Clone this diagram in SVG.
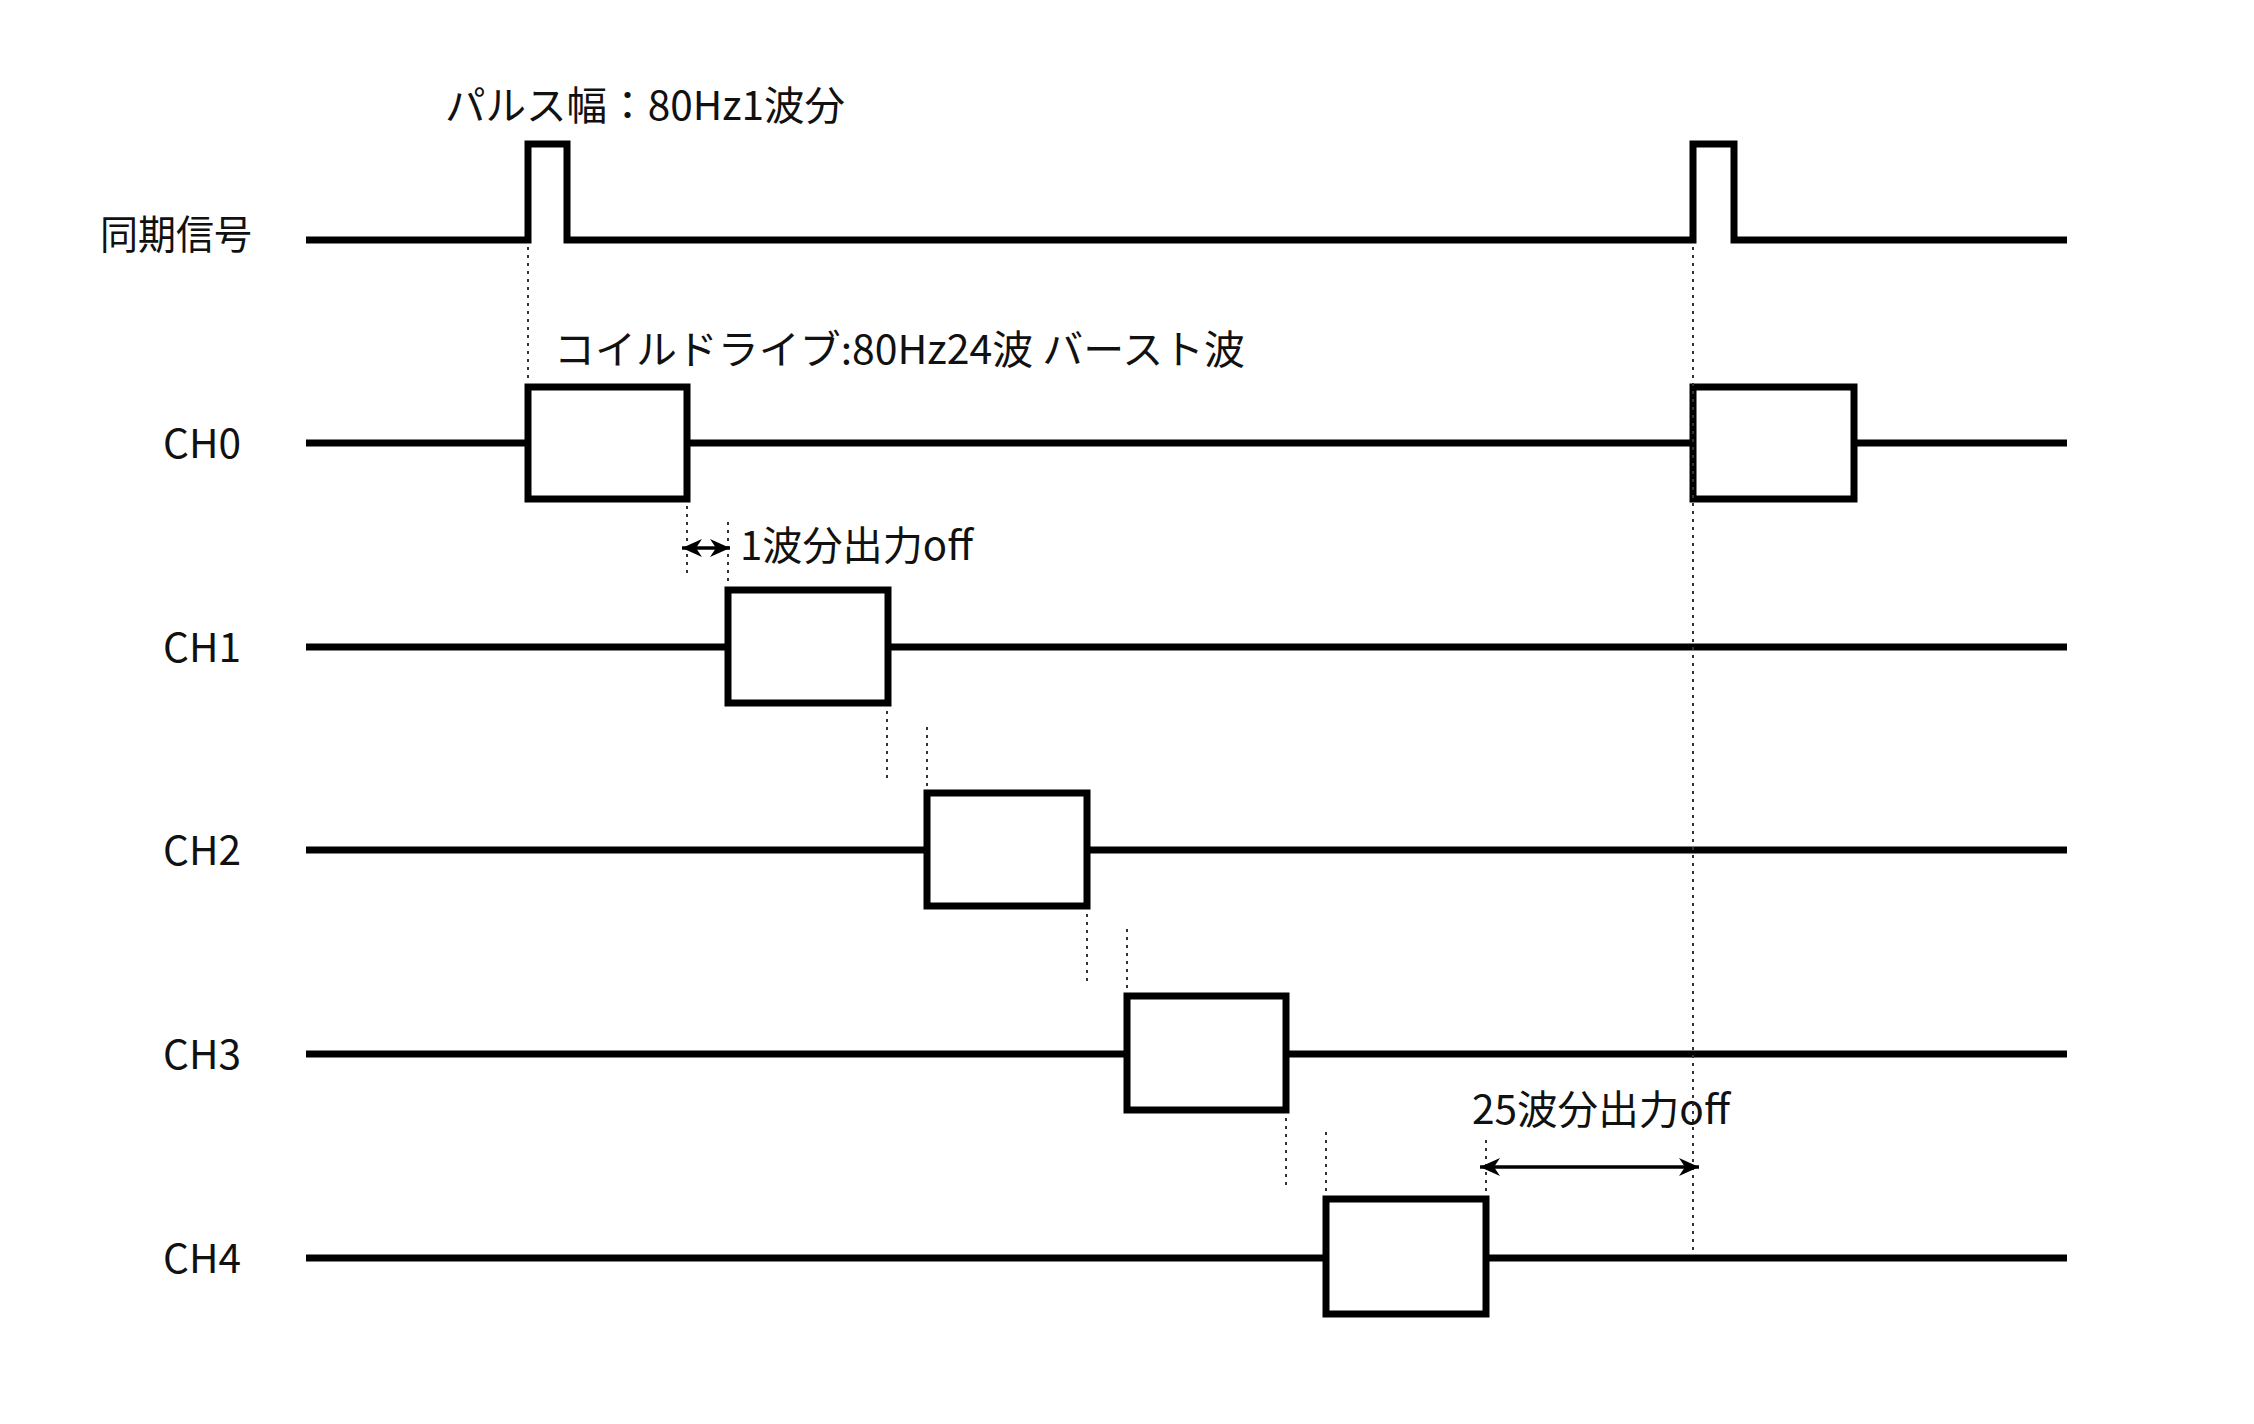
<svg xmlns="http://www.w3.org/2000/svg" width="2254" height="1424" viewBox="0 0 2254 1424">
<style>
  .sig { fill: none; stroke: #000; stroke-width: 7; stroke-linejoin: miter; }
  .box { fill: #fff; stroke: #000; stroke-width: 7; }
  .dot { fill: none; stroke: #333; stroke-width: 2; stroke-dasharray: 3 5; }
  .arr { fill: none; stroke: #000; stroke-width: 3.5; marker-start: url(#ah); marker-end: url(#ah); }
  .lbl { font-family: "Noto Sans CJK JP", "Liberation Sans", sans-serif; font-size: 40px; fill: #111; }
</style>
<defs>
  <marker id="ah" viewBox="0 0 20 18" refX="20" refY="9" markerWidth="20" markerHeight="18" markerUnits="userSpaceOnUse" orient="auto-start-reverse">
    <path d="M0,0 L20,9 L0,18 L6,9 Z" fill="#000"/>
  </marker>
</defs>
<rect width="2254" height="1424" fill="#fff"/>

<g id="sync">
  <path class="sig" d="M306,240 H528 V144 H567 V240 H1693 V144 H1734 V240 H2067"/>
  <text class="lbl" x="100" y="249" textLength="152" lengthAdjust="spacingAndGlyphs">同期信号</text>
  <text class="lbl" x="445" y="120" textLength="400" lengthAdjust="spacingAndGlyphs">パルス幅：80Hz1波分</text>
</g>

<g id="ch0">
  <path class="sig" d="M306,443 H2067"/>
  <rect class="box" x="528" y="387" width="159" height="112"/>
  <rect class="box" x="1693" y="387" width="161" height="112"/>
  <text class="lbl" x="163" y="458" textLength="78" lengthAdjust="spacingAndGlyphs">CH0</text>
  <text class="lbl" x="554" y="364" textLength="691" lengthAdjust="spacingAndGlyphs">コイルドライブ:80Hz24波 バースト波</text>
</g>

<g id="ch1">
  <path class="sig" d="M306,647 H2067"/>
  <rect class="box" x="728" y="590" width="160" height="113"/>
  <text class="lbl" x="163" y="662" textLength="78" lengthAdjust="spacingAndGlyphs">CH1</text>
  <text class="lbl" x="740" y="560" textLength="233" lengthAdjust="spacingAndGlyphs">1波分出力off</text>
</g>

<g id="ch2">
  <path class="sig" d="M306,850 H2067"/>
  <rect class="box" x="927" y="793" width="160" height="113"/>
  <text class="lbl" x="163" y="865" textLength="78" lengthAdjust="spacingAndGlyphs">CH2</text>
</g>

<g id="ch3">
  <path class="sig" d="M306,1054 H2067"/>
  <rect class="box" x="1127" y="996" width="159" height="114"/>
  <text class="lbl" x="163" y="1069" textLength="78" lengthAdjust="spacingAndGlyphs">CH3</text>
</g>

<g id="ch4">
  <path class="sig" d="M306,1258 H2067"/>
  <rect class="box" x="1326" y="1199" width="160" height="115"/>
  <text class="lbl" x="163" y="1273" textLength="78" lengthAdjust="spacingAndGlyphs">CH4</text>
  <text class="lbl" x="1472" y="1124" textLength="258" lengthAdjust="spacingAndGlyphs">25波分出力off</text>
</g>

<g id="connectors">
  <line class="dot" x1="528" y1="247" x2="528" y2="382"/>
  <line class="dot" x1="1693" y1="247" x2="1693" y2="1252"/>
  <line class="dot" x1="687" y1="506" x2="687" y2="578"/>
  <line class="dot" x1="728" y1="522" x2="728" y2="586"/>
  <line class="dot" x1="887" y1="711" x2="887" y2="783"/>
  <line class="dot" x1="927" y1="727" x2="927" y2="789"/>
  <line class="dot" x1="1087" y1="914" x2="1087" y2="986"/>
  <line class="dot" x1="1127" y1="929" x2="1127" y2="992"/>
  <line class="dot" x1="1286" y1="1118" x2="1286" y2="1189"/>
  <line class="dot" x1="1326" y1="1132" x2="1326" y2="1195"/>
  <line class="dot" x1="1486" y1="1140" x2="1486" y2="1195"/>
  <line class="arr" x1="682" y1="548" x2="730" y2="548"/>
  <line class="arr" x1="1480" y1="1167" x2="1699" y2="1167"/>
</g>
</svg>
